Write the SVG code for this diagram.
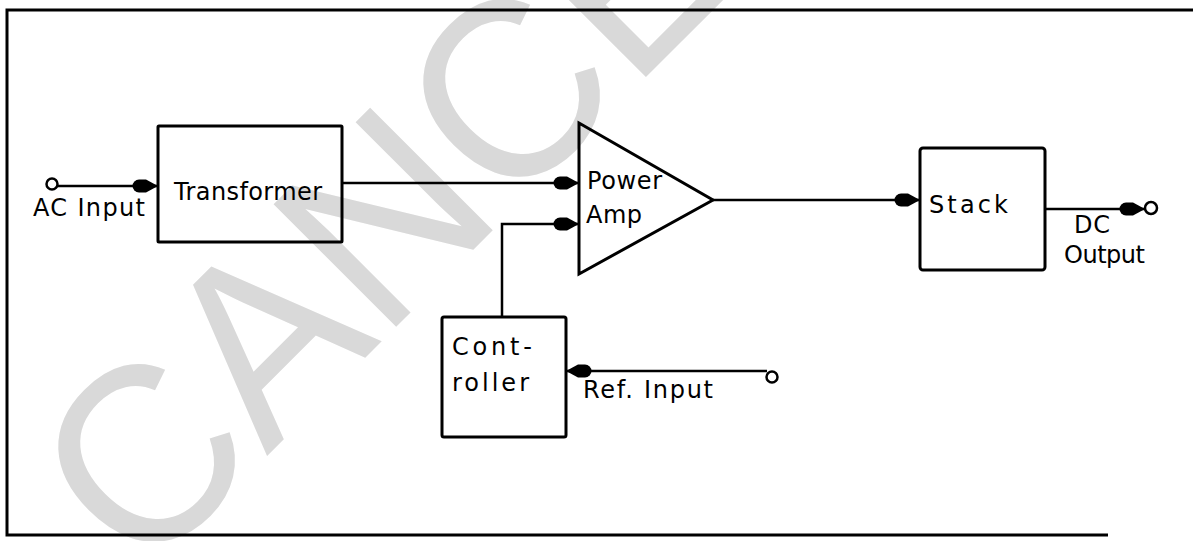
<svg xmlns="http://www.w3.org/2000/svg" width="1193" height="541" viewBox="0 0 1193 541">
<defs>
<style>
.wm{fill:#d9d9d9;font-family:"Liberation Sans",Arial,sans-serif;font-size:252px}
.box{fill:none;stroke:#000;stroke-width:3}
.ln{fill:none;stroke:#000;stroke-width:2.5}
.term{fill:#fff;stroke:#000;stroke-width:2.5}
.lbl{fill:#000;font-family:"DejaVu Sans","Liberation Sans",sans-serif;font-size:24px}
</style>
<marker id="arr" viewBox="-30 -8 32 16" refX="0" refY="0" markerWidth="32" markerHeight="16" markerUnits="userSpaceOnUse" orient="auto">
<path d="M0,0 L-12,-6.5 L-19,-6.5 A6.5,6.5 0 0 0 -19,6.5 L-12,6.5 Z" fill="#000"/>
</marker>
</defs>
<rect width="1193" height="541" fill="#fff"/>
<text class="wm" transform="translate(142,581) rotate(-45) scale(0.97,1)">CANCELLED</text>
<path id="frame" d="M1193,10 H7 V535 H1108" fill="none" stroke="#000" stroke-width="3"/>
<g id="connectors">
<circle class="term" cx="52" cy="184" r="5.5"/>
<path class="ln" d="M57.5,186 H158" marker-end="url(#arr)"/>
<path class="ln" d="M342,183 H579" marker-end="url(#arr)"/>
<path class="ln" d="M502,317 V224 H579" marker-end="url(#arr)"/>
<path class="ln" d="M767,371 H566" marker-end="url(#arr)"/>
<circle class="term" cx="772" cy="377" r="5.5"/>
<path class="ln" d="M713,200 H920" marker-end="url(#arr)"/>
<path class="ln" d="M1045,209 H1145" marker-end="url(#arr)"/>
<circle class="term" cx="1151" cy="208" r="6"/>
</g>
<g id="ac-input">
<text class="lbl" x="33" y="216" textLength="112" lengthAdjust="spacing">AC Input</text>
</g>
<g id="transformer">
<rect class="box" x="158" y="126" width="184" height="116" rx="1"/>
<text class="lbl" x="174" y="200" textLength="148" lengthAdjust="spacing">Transformer</text>
</g>
<g id="power-amp">
<polygon class="box" points="579,123 713,200 579,274"/>
<text class="lbl" x="587" y="189" textLength="75" lengthAdjust="spacing">Power</text>
<text class="lbl" x="586" y="223" textLength="56" lengthAdjust="spacing">Amp</text>
</g>
<g id="stack">
<rect class="box" x="920" y="148" width="125" height="122" rx="3"/>
<text class="lbl" x="929" y="213" font-size="26" textLength="79" lengthAdjust="spacing">Stack</text>
</g>
<g id="dc-output">
<text class="lbl" x="1074" y="233" textLength="36" lengthAdjust="spacing">DC</text>
<text class="lbl" x="1064" y="263" textLength="81" lengthAdjust="spacing">Output</text>
</g>
<g id="controller">
<rect class="box" x="442" y="317" width="124" height="120" rx="2"/>
<text class="lbl" x="452" y="355" textLength="80" lengthAdjust="spacing">Cont-</text>
<text class="lbl" x="452" y="391" textLength="77" lengthAdjust="spacing">roller</text>
</g>
<g id="ref-input">
<text class="lbl" x="583" y="398" textLength="130" lengthAdjust="spacing">Ref. Input</text>
</g>
</svg>
